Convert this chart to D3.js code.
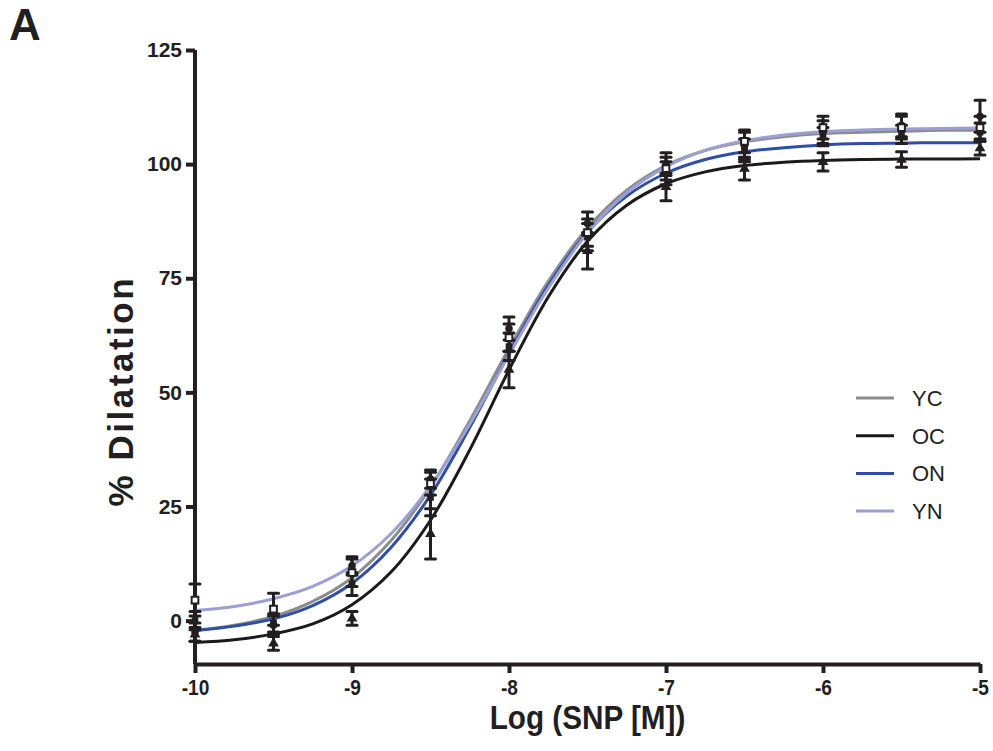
<!DOCTYPE html>
<html>
<head>
<meta charset="utf-8">
<script src="https://cdn.jsdelivr.net/npm/d3@7"></script>
<style>
  body { margin: 0; background: #fff; }
  text { font-family: "Liberation Sans", Arial, sans-serif; fill: #231f20; }
</style>
</head>
<body>
<div id="chart"></div>
<script>
const margin = { left: 195, top: 50, right: 13, bottom: 87 };
const W = 993, H = 751;

// dose points (log M)
const doses = [-10, -9.5, -9, -8.5, -8, -7.5, -7, -6.5, -6, -5.5, -5];

// mean % dilatation and SEM per group
const ycMean = [-2.5, -1, 12, 31, 64, 87, 100, 104, 107, 108.5, 110.5];
const ycSem  = [2, 2, 2, 2, 2.5, 2.5, 2.5, 3, 2.5, 2.5, 3.5];
const ocMean = [-3, -5, 0.5, 19, 55, 81, 95, 99, 100.5, 101, 103.5];
const ocSem  = [1.5, 1.5, 1.5, 5.5, 4, 4, 3, 2.5, 2, 1.7, 1.5];
const onMean = [0, -0.5, 8, 27, 60, 84, 98, 103, 106, 106.5, 107];
const onSem  = [2, 2, 2.5, 4, 3, 3, 2.5, 2.5, 2, 2, 2];
const ynMean = [4.5, 2.5, 10.5, 30, 62, 85, 99, 105, 108, 108, 108];
const ynSem  = [3.5, 3.5, 3, 2.5, 3, 3, 2.5, 2.5, 2.5, 2.5, 2.5];

// fitted curves
const curveX = [-10, -9.75, -9.5, -9.25, -9, -8.75, -8.5, -8.25, -8, -7.75, -7.5,
                -7.25, -7, -6.75, -6.5, -6.25, -6, -5.75, -5.5, -5.25, -5];
const ycFit = [-2.1, -1.0, 0.9, 4.2, 9.4, 17.6, 29.2, 43.8, 59.6, 74.3, 86.0,
               94.3, 99.7, 103.0, 104.9, 106.0, 106.7, 107.0, 107.2, 107.4, 107.4];
const ocFit = [-4.8, -4.2, -2.9, -0.7, 3.5, 10.7, 22.0, 37.4, 54.9, 70.9, 83.1,
               91.0, 95.7, 98.3, 99.7, 100.4, 100.8, 101.0, 101.1, 101.1, 101.2];
const onFit = [-2.2, -1.2, 0.4, 3.3, 8.2, 16.1, 27.5, 42.3, 58.5, 73.4, 85.1,
               93.0, 98.0, 101.0, 102.7, 103.6, 104.2, 104.5, 104.6, 104.7, 104.7];
const ynFit = [2.2, 3.1, 4.8, 7.5, 12.0, 19.1, 29.5, 43.0, 58.2, 72.8, 84.9,
               93.7, 99.4, 103.0, 105.1, 106.4, 107.1, 107.5, 107.7, 107.8, 107.9];

const groups = ["YC", "OC", "ON", "YN"];
const colors = { YC: "#8c8c8c", OC: "#1a1a1a", ON: "#2f4fa6", YN: "#9b9fd3" };
const yTicks = [0, 25, 50, 75, 100, 125];
const xTicks = [-10, -9, -8, -7, -6, -5];

const series = [
  { name: "YC", mean: ycMean, sem: ycSem, fit: ycFit, marker: "circle" },
  { name: "OC", mean: ocMean, sem: ocSem, fit: ocFit, marker: "triangle" },
  { name: "ON", mean: onMean, sem: onSem, fit: onFit, marker: "square" },
  { name: "YN", mean: ynMean, sem: ynSem, fit: ynFit, marker: "open" }
];

const width = W - margin.left - margin.right;
const height = H - margin.top - margin.bottom;

const x = d3.scaleLinear().domain([-10, -5]).range([0, width]);
const y = d3.scaleLinear().domain([-9.5, 125]).range([height, 0]);

const svg = d3.select("#chart").append("svg")
    .attr("width", W)
    .attr("height", H);

const g = svg.append("g")
    .attr("transform", `translate(${margin.left},${margin.top})`);

// panel letter
svg.append("text")
    .attr("x", 9)
    .attr("y", 40)
    .attr("font-size", "44px")
    .attr("font-weight", "bold")
    .text("A");

// axes
const yAxis = g.append("g")
    .call(d3.axisLeft(y).tickValues(yTicks).tickSize(9).tickPadding(4).tickSizeOuter(0));
const xAxis = g.append("g")
    .attr("transform", `translate(0,${height})`)
    .call(d3.axisBottom(x).tickValues(xTicks).tickSize(9).tickPadding(6).tickSizeOuter(0)
        .tickFormat(d => String(d)));

[yAxis, xAxis].forEach(a => {
    a.select(".domain").attr("stroke", "#231f20").attr("stroke-width", 4);
    a.selectAll(".tick line").attr("stroke", "#231f20").attr("stroke-width", 4);
    a.selectAll(".tick text")
        .attr("font-size", "21px")
        .attr("font-weight", "bold")
        .attr("fill", "#231f20")
        .style("font-family", "'Liberation Sans', Arial, sans-serif");
});
xAxis.selectAll(".tick text").attr("font-size", "22px").attr("transform", "scale(0.87,1)");
// y axis line runs from top tick down to x axis
yAxis.select(".domain").attr("d", `M0,${y(125)}V${height}`);

// axis titles
const xt = margin.left + width / 2;
svg.append("text")
    .attr("x", xt)
    .attr("y", 729)
    .attr("text-anchor", "middle")
    .attr("font-size", "33px")
    .attr("font-weight", "bold")
    .attr("transform", `translate(${xt * 0.1},0) scale(0.9,1)`)
    .text("Log (SNP [M])");

svg.append("text")
    .attr("transform", `translate(133,${margin.top + y(50)}) rotate(-90)`)
    .attr("text-anchor", "middle")
    .attr("font-size", "35px")
    .attr("font-weight", "bold")
    .attr("textLength", 228)
    .attr("lengthAdjust", "spacing")
    .text("% Dilatation");

// fitted curves
const line = d3.line()
    .x(d => x(d[0]))
    .y(d => y(d[1]))
    .curve(d3.curveCatmullRom);

series.forEach(s => {
    g.append("path")
        .datum(curveX.map((xv, i) => [xv, s.fit[i]]))
        .attr("fill", "none")
        .attr("stroke", colors[s.name])
        .attr("stroke-width", 3)
        .attr("d", line);
});

// error bars and markers
const ink = "#231f20";
series.forEach(s => {
    const pts = doses.map((d, i) => ({ x: d, m: s.mean[i], e: s.sem[i] }));
    const grp = g.append("g");
    grp.selectAll(".eb")
        .data(pts).enter().append("line")
        .attr("x1", d => x(d.x)).attr("x2", d => x(d.x))
        .attr("y1", d => y(d.m - d.e)).attr("y2", d => y(d.m + d.e))
        .attr("stroke", ink).attr("stroke-width", 3);
    ["top", "bot"].forEach(k => {
        grp.selectAll(".cap" + k)
            .data(pts).enter().append("line")
            .attr("x1", d => x(d.x) - 5).attr("x2", d => x(d.x) + 5)
            .attr("y1", d => y(k === "top" ? d.m + d.e : d.m - d.e))
            .attr("y2", d => y(k === "top" ? d.m + d.e : d.m - d.e))
            .attr("stroke", ink).attr("stroke-width", 3).attr("stroke-linecap", "round");
    });
    let sym;
    if (s.marker === "circle") sym = d3.symbol().type(d3.symbolCircle).size(45);
    else if (s.marker === "triangle") sym = d3.symbol().type(d3.symbolTriangle).size(50);
    else sym = d3.symbol().type(d3.symbolSquare).size(45);
    grp.selectAll(".mk")
        .data(pts).enter().append("path")
        .attr("transform", d => `translate(${x(d.x)},${y(d.m)})`)
        .attr("d", sym)
        .attr("fill", s.marker === "open" ? "#fff" : ink)
        .attr("stroke", ink)
        .attr("stroke-width", s.marker === "open" ? 2 : 0);
});

// legend
const legend = svg.append("g").attr("transform", "translate(856,398)");
groups.forEach((name, i) => {
    const row = legend.append("g").attr("transform", `translate(0,${i * 37.7})`);
    row.append("line")
        .attr("x1", 0).attr("x2", 38)
        .attr("stroke", colors[name]).attr("stroke-width", 3);
    row.append("text")
        .attr("x", 56).attr("y", 8)
        .attr("font-size", "22px")
        .text(name);
});
</script>
</body>
</html>
